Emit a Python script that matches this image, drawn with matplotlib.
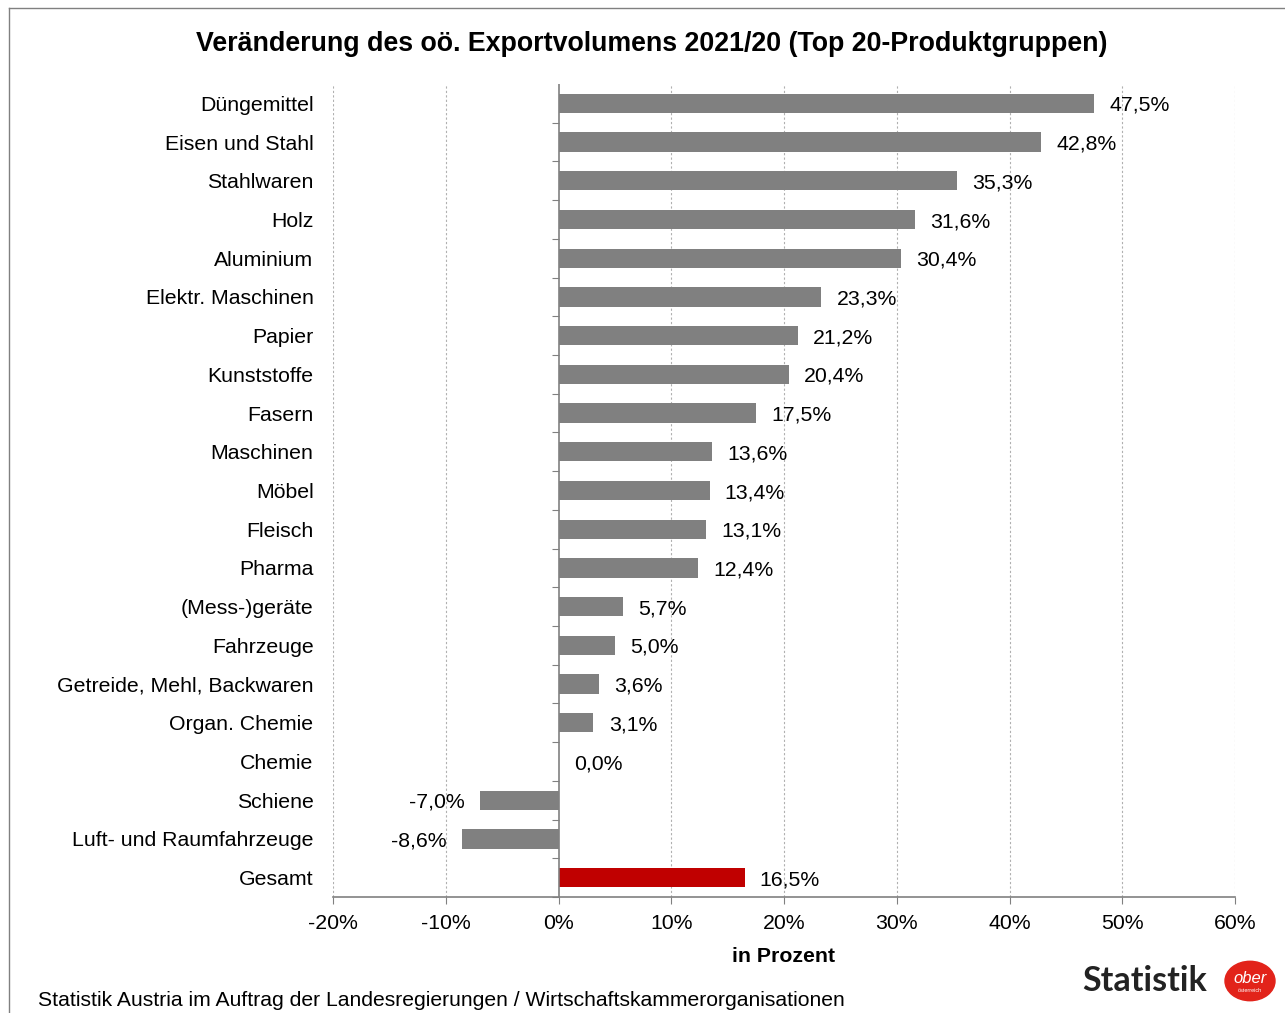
import matplotlib.pyplot as plt
import numpy as np
from matplotlib.lines import Line2D
from matplotlib.patches import Circle
from matplotlib.ticker import FuncFormatter

plt.rcParams['font.family'] = ['Liberation Sans', 'DejaVu Sans']

categories = ["Düngemittel", "Eisen und Stahl", "Stahlwaren", "Holz", "Aluminium",
              "Elektr. Maschinen", "Papier", "Kunststoffe", "Fasern", "Maschinen",
              "Möbel", "Fleisch", "Pharma", "(Mess-)geräte", "Fahrzeuge",
              "Getreide, Mehl, Backwaren", "Organ. Chemie", "Chemie", "Schiene",
              "Luft- und Raumfahrzeuge", "Gesamt"]
values = [47.5, 42.8, 35.3, 31.6, 30.4, 23.3, 21.2, 20.4, 17.5, 13.6,
          13.4, 13.1, 12.4, 5.7, 5.0, 3.6, 3.1, 0.0, -7.0, -8.6, 16.5]
x_ticks = [-20, -10, 0, 10, 20, 30, 40, 50, 60]

grey = "#808080"
red = "#C00000"
colors = [red if c == "Gesamt" else grey for c in categories]
fs = 15.3

fig = plt.figure(figsize=(12.85, 10.13), dpi=100)
ax = fig.add_axes([333 / 1285, 116 / 1013, 902 / 1285, 813 / 1013])

y = np.arange(len(categories))
ax.barh(y, values, height=0.5, color=colors, zorder=3)
ax.set_ylim(len(categories) - 0.5, -0.5)
ax.set_xlim(x_ticks[0], x_ticks[-1])

# value labels
for yi, v in zip(y, values):
    txt = f"{v:.1f}%".replace(".", ",")
    if v < 0:
        ax.annotate(txt, (v, yi), xytext=(-11, -1.5), textcoords="offset points",
                    ha="right", va="center", fontsize=fs)
    else:
        ax.annotate(txt, (v, yi), xytext=(11, -1.5), textcoords="offset points",
                    ha="left", va="center", fontsize=fs)

# grid
ax.set_xticks(x_ticks)
ax.xaxis.set_major_formatter(FuncFormatter(lambda v, p: f"{v:.0f}%"))
for xt in x_ticks:
    if xt != 0:
        ax.axvline(xt, color="#b0b0b0", lw=0.8, ls=(0, (2, 2)), zorder=1)
ax.axvline(0, color=grey, lw=1.2, zorder=4)

ax.set_yticks(y)
ax.set_yticklabels(categories, fontsize=fs)
ax.tick_params(axis="y", length=0, pad=14)
ax.tick_params(axis="x", labelsize=fs, length=5, color=grey, pad=7)

for s in ["left", "right", "top"]:
    ax.spines[s].set_visible(False)
ax.spines["bottom"].set_color(grey)
ax.spines["bottom"].set_linewidth(1.2)

# category boundary ticks on the zero line
sec = ax.secondary_yaxis((0 - x_ticks[0]) / (x_ticks[-1] - x_ticks[0]))
sec.spines["left"].set_visible(False)
sec.set_yticks(np.arange(len(categories)) + 0.5)
sec.tick_params(length=5, color=grey, labelleft=False, direction="out")

ax.set_xlabel("in Prozent", fontsize=fs, fontweight="bold", labelpad=10)

fig.text(652 / 1285, 1 - 44 / 1013, "Veränderung des oö. Exportvolumens 2021/20 (Top 20-Produktgruppen)",
         ha="center", va="center", fontsize=19.3, fontweight="bold")
fig.text(38 / 1285, 1 - 1000 / 1013,
         "Statistik Austria im Auftrag der Landesregierungen / Wirtschaftskammerorganisationen",
         ha="left", va="center", fontsize=15.2)

# frame
fig.add_artist(Line2D([9 / 1285, 9 / 1285], [0, 1 - 8 / 1013], transform=fig.transFigure, color=grey, lw=1))
fig.add_artist(Line2D([9 / 1285, 1], [1 - 8 / 1013, 1 - 8 / 1013], transform=fig.transFigure, color=grey, lw=1))

# logo
fig.text(1145 / 1285, 1 - 981 / 1013, "Statistik", ha="center", va="center",
         fontsize=24.5, fontweight="bold", color="#222222", family="Lato")
cx, cy = 1250, 981
fig.add_artist(Circle((cx / 1285, 1 - cy / 1013), 25 / 1285, transform=fig.transFigure,
                      color="#e2231a", zorder=5))
fig.text(cx / 1285, 1 - (cy - 3) / 1013, "ober", ha="center", va="center", fontsize=12,
         style="italic", color="white", zorder=6)
fig.text(cx / 1285, 1 - (cy + 9) / 1013, "österreich", ha="center", va="center", fontsize=4,
         color="white", zorder=6)

fig.savefig("out.png", dpi=100)
